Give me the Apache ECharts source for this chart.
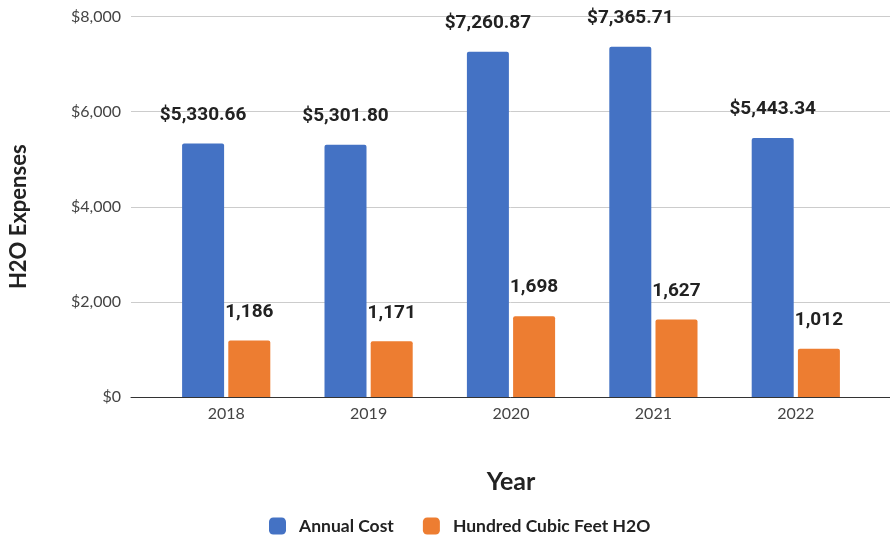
<!DOCTYPE html>
<html><head><meta charset="utf-8">
<script src="https://cdn.jsdelivr.net/npm/echarts@6/dist/echarts.min.js"></script>
<style>html,body{margin:0;padding:0;background:#fff}#c{width:890px;height:535px}</style>
</head><body><div id="c"></div>
<script>
const years = ['2018', '2019', '2020', '2021', '2022'];
const annualCost = [5330.66, 5301.80, 7260.87, 7365.71, 5443.34];
const hundredCubicFeet = [1186, 1171, 1698, 1627, 1012];
const yTicks = [0, 2000, 4000, 6000, 8000];

const chart = echarts.init(document.getElementById('c'));
const fmtMoney = v => '$' + v.toLocaleString('en-US', {minimumFractionDigits: 2, maximumFractionDigits: 2});
const labelStyle = {show: true, position: 'top', distance: 19, fontFamily: 'Roboto', fontWeight: 'bold', fontSize: 19, color: '#222'};
chart.setOption({
  animation: false,
  grid: [
    {left: 130, right: 0, top: 16.5, bottom: 138},
    {left: 155, right: 23, top: 16.5, bottom: 138}
  ],
  xAxis: [
    {gridIndex: 0, type: 'category', data: [''], axisLine: {lineStyle: {color: '#333', width: 1}}, axisTick: {show: false}, axisLabel: {show: false}},
    {gridIndex: 1, type: 'category', data: years, axisLine: {show: false}, axisTick: {show: false},
     axisLabel: {fontFamily: 'Lato', fontSize: 16, color: '#444', margin: 9},
     name: 'Year', nameLocation: 'middle', nameGap: 72,
     nameTextStyle: {fontFamily: 'Lato', fontWeight: 'bold', fontSize: 25, color: '#222'}}
  ],
  yAxis: [
    {gridIndex: 0, type: 'value', min: yTicks[0], max: yTicks[yTicks.length - 1], interval: 2000,
     axisLine: {show: false}, axisTick: {show: false},
     axisLabel: {fontFamily: 'Lato', fontSize: 16, color: '#444', margin: 10, formatter: v => '$' + v.toLocaleString('en-US')},
     splitLine: {lineStyle: {color: '#ccc'}},
     name: 'H2O Expenses', nameLocation: 'middle', nameGap: 101, nameRotate: 90,
     nameTextStyle: {fontFamily: 'Lato', fontWeight: 'bold', fontSize: 22, color: '#222', padding: [0, 20, 0, 0]}},
    {gridIndex: 1, type: 'value', min: yTicks[0], max: yTicks[yTicks.length - 1], interval: 2000, show: false}
  ],
  legend: {
    left: 269, top: 517, padding: 0, itemWidth: 17, itemHeight: 17, itemGap: 29,
    icon: 'roundRect',
    textStyle: {fontFamily: 'Lato', fontWeight: 'bold', fontSize: 17.5, color: '#222', padding: [0, 0, 0, 8]},
    data: ['Annual Cost', 'Hundred Cubic Feet H2O']
  },
  series: [
    {name: 'Annual Cost', type: 'bar', xAxisIndex: 1, yAxisIndex: 1, data: annualCost,
     barWidth: 42, barGap: '10%', itemStyle: {color: '#4472C4', borderRadius: [2, 2, 0, 0]},
     label: Object.assign({}, labelStyle, {formatter: p => fmtMoney(p.value)})},
    {name: 'Hundred Cubic Feet H2O', type: 'bar', xAxisIndex: 1, yAxisIndex: 1, data: hundredCubicFeet,
     barWidth: 42, barGap: '10%', itemStyle: {color: '#ED7D31', borderRadius: [2, 2, 0, 0]},
     label: Object.assign({}, labelStyle, {formatter: p => p.value.toLocaleString('en-US')})}
  ]
});
</script></body></html>
